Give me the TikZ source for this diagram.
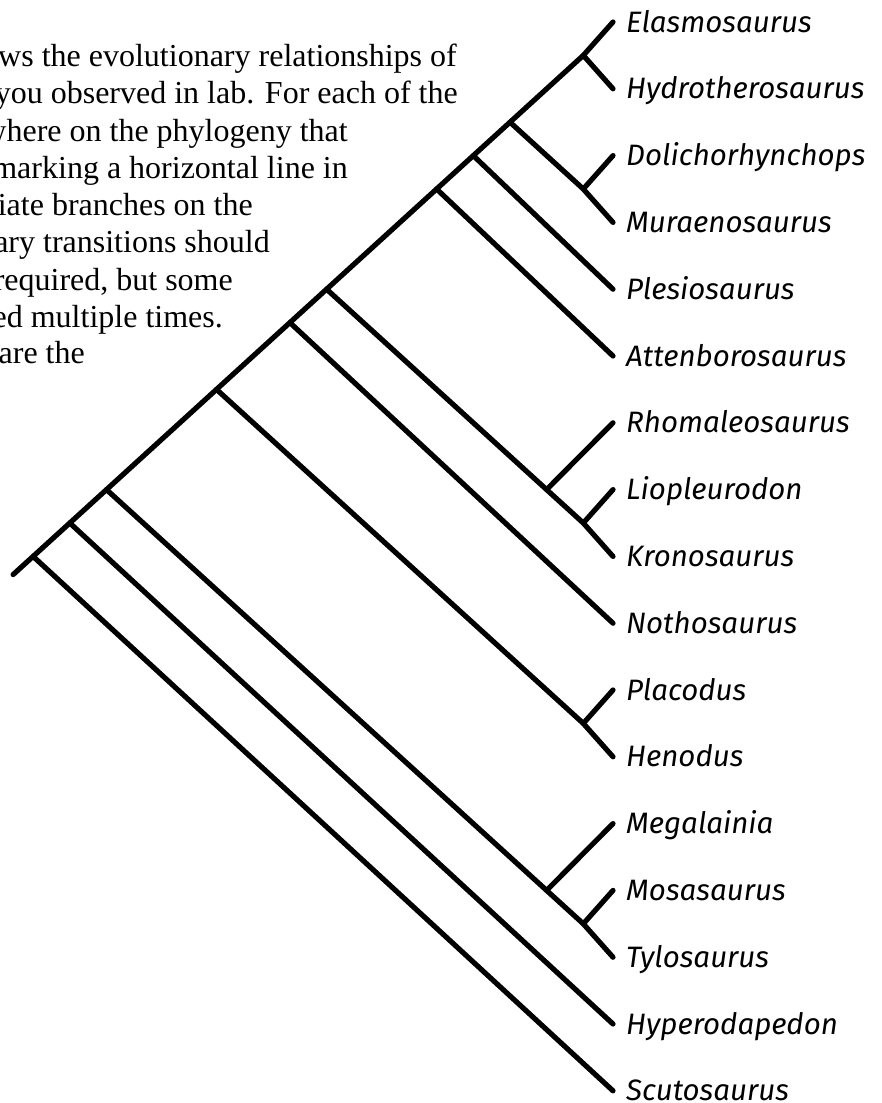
\documentclass[tikz,border=0pt]{standalone}
\usepackage{fontspec}
\setmainfont{Liberation Serif}
\newfontfamily\labfont{Fira Sans}
\begin{document}
\begin{tikzpicture}[x=1pt,y=-1pt,
  br/.style={line width=5.2pt, line cap=round, line join=round},
  lab/.style={anchor=base west, inner sep=0pt, font=\labfont\itshape\fontsize{29.5}{34}\selectfont},
  para/.style={anchor=base east, inner sep=0pt, font=\fontsize{32}{37}\selectfont}]
\useasboundingbox (0,0) rectangle (882,1103);
% tips
\coordinate (t0) at (613,22);
\coordinate (t1) at (613,88.8);
\coordinate (t2) at (613,155.6);
\coordinate (t3) at (613,222.4);
\coordinate (t4) at (613,289.2);
\coordinate (t5) at (613,356.0);
\coordinate (t6) at (613,422.8);
\coordinate (t7) at (613,489.6);
\coordinate (t8) at (613,556.4);
\coordinate (t9) at (613,623.2);
\coordinate (t10) at (613,690.0);
\coordinate (t11) at (613,756.8);
\coordinate (t12) at (613,823.6);
\coordinate (t13) at (613,890.4);
\coordinate (t14) at (613,957.2);
\coordinate (t15) at (613,1024.0);
\coordinate (t16) at (613,1090.8);
% internal nodes
\coordinate (n01) at (583.3,55.4);
\coordinate (n23) at (583.3,189.0);
\coordinate (n03) at (510.0,122.2);
\coordinate (n04) at (473.3,155.6);
\coordinate (n05) at (436.6,189.0);
\coordinate (n78) at (583.3,523.0);
\coordinate (n68) at (546.6,489.6);
\coordinate (n08) at (326.6,289.2);
\coordinate (n09) at (289.9,322.6);
\coordinate (n1011) at (583.3,723.4);
\coordinate (n011) at (216.5,389.4);
\coordinate (n1314) at (583.3,923.8);
\coordinate (n1214) at (546.6,890.4);
\coordinate (n014) at (106.5,489.6);
\coordinate (n015) at (69.8,523.0);
\coordinate (n016) at (33.1,556.4);
\coordinate (stub) at (13.1,574.6);
% tree
\draw[br] (stub) -- (n016) -- (n015) -- (n014) -- (n011) -- (n09) -- (n08) -- (n05) -- (n04) -- (n03) -- (n01) -- (t0);
\draw[br] (n01) -- (t1);
\draw[br] (n03) -- (n23) -- (t3);
\draw[br] (n23) -- (t2);
\draw[br] (n04) -- (t4);
\draw[br] (n05) -- (t5);
\draw[br] (n08) -- (n68) -- (n78) -- (t8);
\draw[br] (n68) -- (t6);
\draw[br] (n78) -- (t7);
\draw[br] (n09) -- (t9);
\draw[br] (n011) -- (n1011) -- (t11);
\draw[br] (n1011) -- (t10);
\draw[br] (n014) -- (n1214) -- (n1314) -- (t14);
\draw[br] (n1214) -- (t12);
\draw[br] (n1314) -- (t13);
\draw[br] (n015) -- (t15);
\draw[br] (n016) -- (t16);
% labels
\node[lab] (l0) at (626,32) {Elasmosaurus};
\node[lab] (l1) at (626,98.8) {Hydrotherosaurus};
\node[lab] (l2) at (626,165.6) {Dolichorhynchops};
\node[lab] (l3) at (626,232.4) {Muraenosaurus};
\node[lab] (l4) at (626,299.2) {Plesiosaurus};
\node[lab] (l5) at (626,366.0) {Attenborosaurus};
\node[lab] (l6) at (626,432.8) {Rhomaleosaurus};
\node[lab] (l7) at (626,499.6) {Liopleurodon};
\node[lab] (l8) at (626,566.4) {Kronosaurus};
\node[lab] (l9) at (626,633.2) {Nothosaurus};
\node[lab] (l10) at (626,700.0) {Placodus};
\node[lab] (l11) at (626,766.8) {Henodus};
\node[lab] (l12) at (626,833.6) {Megalainia};
\node[lab] (l13) at (626,900.4) {Mosasaurus};
\node[lab] (l14) at (626,967.2) {Tylosaurus};
\node[lab] (l15) at (626,1034.0) {Hyperodapedon};
\node[lab] (l16) at (626,1100.8) {Scutosaurus};
% paragraph (clipped at left edge)
\node[para] (p1) at (457,66) {ws the evolutionary relationships of};
\node[para] (p2) at (458,103) {you observed in lab. For each of the};
\node[para] (p3) at (348,141) {where on the phylogeny that};
\node[para] (p4) at (348,178) {marking a horizontal line in};
\node[para] (p5) at (253,215) {iate branches on the};
\node[para] (p6) at (270,252) {ary transitions should};
\node[para] (p7) at (233,290) {required, but some};
\node[para] (p8) at (223,327) {ed multiple times.};
\node[para] (p9) at (85,363) {are the};
\end{tikzpicture}
\end{document}
